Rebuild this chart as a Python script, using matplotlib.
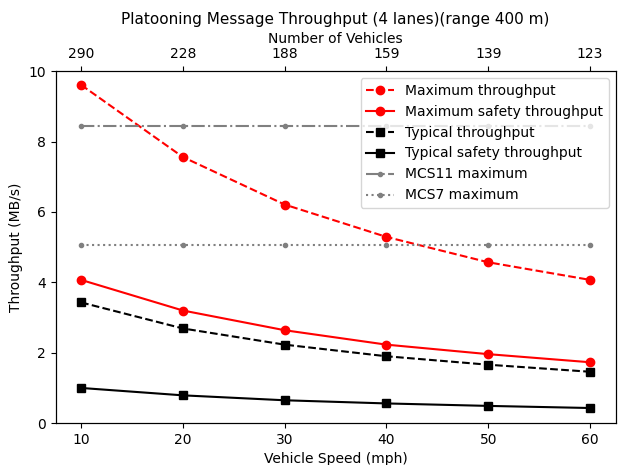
import matplotlib
matplotlib.use("Agg")
import matplotlib.pyplot as plt

# Velocidade dos veículos (mph) e número de veículos correspondente
speeds = [10, 20, 30, 40, 50, 60]
num_vehicles = ["290", "228", "188", "159", "139", "123"]

max_throughput = [9.61, 7.56, 6.21, 5.29, 4.57, 4.07]
max_safety = [4.07, 3.20, 2.64, 2.23, 1.96, 1.73]
typical_throughput = [3.43, 2.69, 2.23, 1.90, 1.66, 1.46]
typical_safety = [1.00, 0.79, 0.65, 0.56, 0.49, 0.43]
mcs11_max = [8.45] * 6
mcs7_max = [5.07] * 6

fig = plt.figure(figsize=(6.18, 4.65), dpi=100)
ax = fig.add_axes([0.09, 0.09, 0.906, 0.757])

ax.plot(speeds, max_throughput, 'r--o', label='Maximum throughput')
ax.plot(speeds, max_safety, 'r-o', label='Maximum safety throughput')
ax.plot(speeds, typical_throughput, 'k--s', label='Typical throughput')
ax.plot(speeds, typical_safety, 'k-s', label='Typical safety throughput')
ax.plot(speeds, mcs11_max, '-.', marker='.', color='gray', label='MCS11 maximum')
ax.plot(speeds, mcs7_max, ':', marker='.', color='gray', label='MCS7 maximum')

ax.set_ylim(0, 10)
ax.set_xticks(speeds)
ax.set_xlabel('Vehicle Speed (mph)')
ax.set_ylabel('Throughput (MB/s)')
ax.legend(loc='upper right')

# Eixo superior com o número de veículos
ax2 = ax.twiny()
ax2.set_xlim(ax.get_xlim())
ax2.set_xticks(speeds)
ax2.set_xticklabels(num_vehicles)
ax2.set_xlabel('Number of Vehicles', labelpad=3)
ax2.set_title('Platooning Message Throughput (4 lanes)(range 400 m)', fontsize=11)

fig.savefig('out.png')
